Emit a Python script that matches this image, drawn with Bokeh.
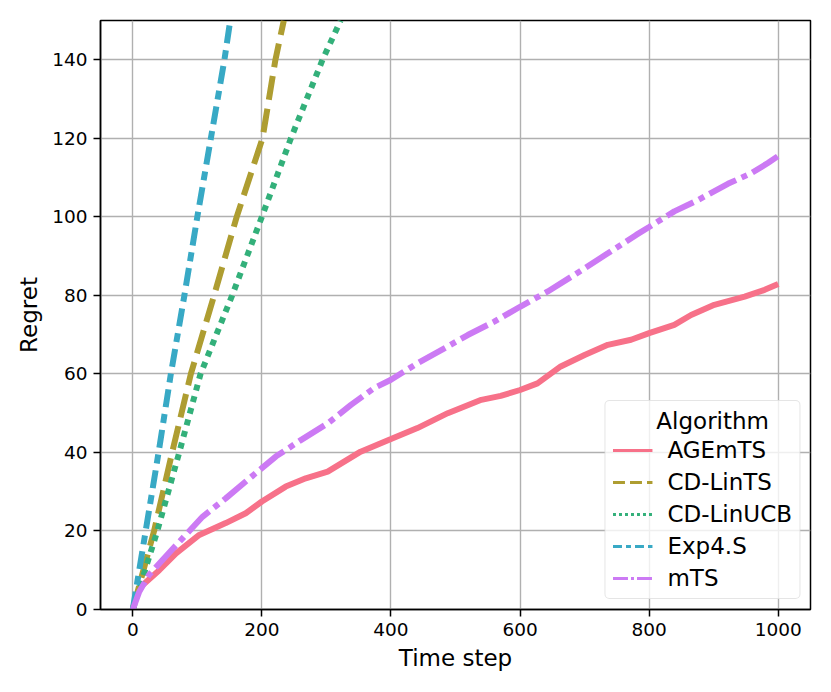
from bokeh.plotting import figure
from bokeh.models import Legend, LegendItem, FixedTicker, Range1d
from bokeh.embed import file_html
from bokeh.resources import INLINE

# ---- data ----
agemts_t = [0, 5, 15, 41, 67, 103, 144, 175, 200, 237, 268, 302, 353, 400, 441, 488,
            540, 570, 600, 627, 663, 700, 736, 772, 800, 839, 865, 901, 948, 979, 1000]
agemts_r = [0, 3.5, 6.2, 10, 14.3, 19, 22, 24.5, 27.5, 31.3, 33.4, 35.1, 40.2, 43.4, 46.2, 50,
            53.4, 54.4, 55.9, 57.6, 61.9, 64.8, 67.4, 68.7, 70.4, 72.5, 75, 77.6, 79.7, 81.4, 82.9]

cdlints_t = [0, 33, 61, 90, 126, 161, 201, 221, 234]
cdlints_r = [0, 20, 40, 60, 80, 100, 120, 140, 150]

cdlinucb_t = [0, 38, 72, 105, 154, 200, 245, 294, 322]
cdlinucb_r = [0, 20, 40, 60, 80, 100, 120, 140, 150]

exp4s_t = [0, 20, 40, 59, 80, 100, 121, 142, 151]
exp4s_r = [0, 20, 40, 60, 80, 100, 120, 140, 150]

mts_t = [0, 10, 25, 51, 82, 108, 144, 175, 200, 222, 261, 302, 338, 374, 400, 441, 488, 519,
         560, 600, 643, 684, 736, 780, 800, 839, 876, 922, 958, 984, 1000]
mts_r = [0, 4.5, 8.8, 13.5, 19, 23.6, 28.3, 32.6, 36, 39, 43.2, 47.4, 52.1, 56.4, 58.5, 62.7, 67, 69.9,
         73.3, 77.1, 81, 85.2, 90.7, 95.4, 97.4, 101.4, 104.3, 108.4, 111.1, 113.7, 115.5]

labels = ["AGEmTS", "CD-LinTS", "CD-LinUCB", "Exp4.S", "mTS"]
legend_title = "Algorithm"
colors = ["#f77189", "#ae9d31", "#33b07a", "#38a9c5", "#cc7af4"]
plot_dashes = ["solid", "24 9", "6 6", "18 7 9 7", "30 6 6 6"]
legend_dashes = ["solid", "12 5", "3 3", "9 4 5 4", "15 3 3 3"]
series = [(agemts_t, agemts_r), (cdlints_t, cdlints_r), (cdlinucb_t, cdlinucb_r),
          (exp4s_t, exp4s_r), (mts_t, mts_r)]

x_ticks = [0, 200, 400, 600, 800, 1000]
y_ticks = [0, 20, 40, 60, 80, 100, 120, 140]

FONT = "DejaVu Sans"

p = figure(width=815, height=676, output_backend="svg", toolbar_location=None,
           x_range=Range1d(-50, 1050), y_range=Range1d(0, 150),
           min_border_left=100, min_border_right=5, min_border_top=20, min_border_bottom=67)

p.background_fill_color = "white"
p.border_fill_color = "white"
p.outline_line_color = "black"
p.outline_line_width = 1.5
p.outline_line_alpha = 1.0

for ax in (p.xaxis, p.yaxis):
    ax.axis_line_color = "black"
    ax.axis_line_width = 1.5
    ax.major_tick_in = 0
    ax.major_tick_out = 7
    ax.major_tick_line_width = 1.5
    ax.minor_tick_line_color = None
    ax.major_label_text_font = FONT
    ax.major_label_text_font_size = "18.5px"
    ax.major_label_text_color = "black"
    ax.axis_label_text_font = FONT
    ax.axis_label_text_font_size = "23px"
    ax.axis_label_text_font_style = "normal"
    ax.axis_label_text_color = "black"

p.xaxis.ticker = FixedTicker(ticks=x_ticks)
p.yaxis.ticker = FixedTicker(ticks=y_ticks)
p.xaxis.axis_label = "Time step"
p.yaxis.axis_label = "Regret"
p.xaxis.major_label_standoff = 6
p.yaxis.major_label_standoff = 6
p.xaxis.axis_label_standoff = 6
p.yaxis.axis_label_standoff = 7

p.xgrid.ticker = FixedTicker(ticks=x_ticks)
p.ygrid.ticker = FixedTicker(ticks=y_ticks)
p.grid.grid_line_color = "#b0b0b0"
p.grid.grid_line_width = 1.4

items = []
for (t, r), lab, col, pd_, ld in zip(series, labels, colors, plot_dashes, legend_dashes):
    p.line(t, r, line_color=col, line_width=6, line_dash=pd_)
    dummy = p.line([float("nan")], [float("nan")], line_color=col, line_width=3, line_dash=ld)
    items.append(LegendItem(label=lab, renderers=[dummy]))

legend = Legend(items=items, location="bottom_right", title="\u00a0" * 6 + legend_title)
legend.margin = 10
legend.padding = 7
legend.spacing = 6
legend.glyph_width = 40
legend.glyph_height = 26
legend.label_height = 26
legend.label_standoff = 15
legend.label_text_font = FONT
legend.label_text_font_size = "23px"
legend.label_text_color = "black"
legend.title_text_font = FONT
legend.title_text_font_size = "23px"
legend.title_text_font_style = "normal"
legend.title_text_color = "black"
legend.title_standoff = 3
legend.border_line_color = "#cccccc"
legend.border_line_width = 1.3
legend.background_fill_color = "white"
legend.background_fill_alpha = 0.8
if "border_radius" in Legend.properties():
    legend.border_radius = 5
p.add_layout(legend)

open("out.html", "w").write(file_html(p, INLINE))
